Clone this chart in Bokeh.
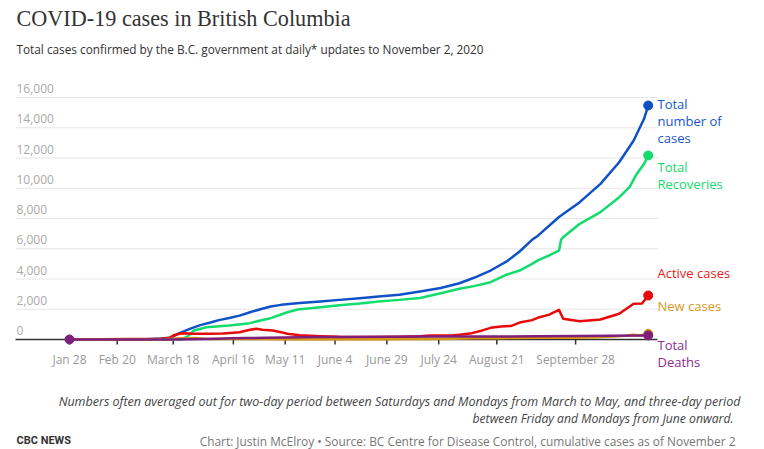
import pandas as pd
from bokeh.plotting import figure
from bokeh.models import Label
from bokeh.core.properties import value
from bokeh.embed import file_html
from bokeh.resources import INLINE

# ---------------- data ----------------
total_dates = ["2020-01-28", "2020-02-20", "2020-03-05", "2020-03-12", "2020-03-16", "2020-03-18",
               "2020-03-21", "2020-03-26", "2020-03-31", "2020-04-05", "2020-04-09", "2020-04-14",
               "2020-04-19", "2020-04-24", "2020-04-29", "2020-05-04", "2020-05-09", "2020-05-18",
               "2020-05-28", "2020-06-06", "2020-06-16", "2020-06-25", "2020-07-05", "2020-07-15",
               "2020-07-25", "2020-08-03", "2020-08-10", "2020-08-18", "2020-08-26", "2020-09-01",
               "2020-09-07", "2020-09-10", "2020-09-20", "2020-09-30", "2020-10-10", "2020-10-19",
               "2020-10-26", "2020-10-31", "2020-11-02"]
total_cases = [1, 6, 20, 60, 110, 200, 420, 700, 950, 1120, 1280, 1420, 1580, 1800, 2000, 2180,
               2290, 2410, 2510, 2620, 2730, 2850, 2960, 3170, 3410, 3720, 4080, 4560, 5180, 5820,
               6590, 6880, 8100, 9080, 10290, 11720, 13160, 14590, 15470]

recov_dates = ["2020-01-28", "2020-03-12", "2020-03-22", "2020-03-25", "2020-03-28", "2020-04-03",
               "2020-04-14", "2020-04-24", "2020-04-29", "2020-05-04", "2020-05-09", "2020-05-12",
               "2020-05-17", "2020-05-28", "2020-06-06", "2020-06-16", "2020-06-25", "2020-07-05",
               "2020-07-15", "2020-07-25", "2020-08-03", "2020-08-10", "2020-08-18", "2020-08-26",
               "2020-09-01", "2020-09-07", "2020-09-10", "2020-09-15", "2020-09-20", "2020-09-21",
               "2020-09-22", "2020-09-30", "2020-10-10", "2020-10-19", "2020-10-24", "2020-10-27",
               "2020-10-31", "2020-11-02"]
recoveries = [0, 0, 5, 200, 600, 810, 925, 1080, 1260, 1410, 1650, 1800, 1980, 2140, 2270, 2380,
              2510, 2620, 2750, 3060, 3350, 3530, 3790, 4300, 4560, 5000, 5250, 5550, 5880, 6600,
              6760, 7650, 8420, 9410, 10070, 10840, 11620, 12170]

active_dates = ["2020-01-28", "2020-03-12", "2020-03-16", "2020-03-18", "2020-03-21", "2020-03-23",
                "2020-03-27", "2020-04-03", "2020-04-11", "2020-04-19", "2020-04-24", "2020-04-27",
                "2020-04-30", "2020-05-05", "2020-05-09", "2020-05-12", "2020-05-18", "2020-05-28",
                "2020-06-06", "2020-06-16", "2020-06-25", "2020-07-05", "2020-07-15", "2020-07-20",
                "2020-07-30", "2020-08-03", "2020-08-09", "2020-08-14", "2020-08-18", "2020-08-23",
                "2020-08-28", "2020-09-01", "2020-09-07", "2020-09-10", "2020-09-15", "2020-09-20",
                "2020-09-22", "2020-09-30", "2020-10-10", "2020-10-19", "2020-10-26", "2020-10-30",
                "2020-11-02"]
active_cases = [1, 50, 100, 260, 375, 420, 380, 380, 400, 485, 640, 705, 640, 595, 485, 375, 285,
                220, 175, 170, 170, 175, 210, 265, 265, 310, 420, 600, 770, 860, 900, 1120, 1280,
                1450, 1630, 1960, 1370, 1210, 1320, 1700, 2360, 2380, 2910]

new_dates = ["2020-01-28", "2020-02-20", "2020-03-05", "2020-03-12", "2020-03-16", "2020-03-18",
             "2020-03-21", "2020-03-25", "2020-03-28", "2020-04-02", "2020-04-08", "2020-04-14",
             "2020-04-19", "2020-04-24", "2020-05-01", "2020-05-11", "2020-05-25", "2020-06-08",
             "2020-06-22", "2020-07-06", "2020-07-20", "2020-07-31", "2020-08-10", "2020-08-21",
             "2020-08-31", "2020-09-10", "2020-09-20", "2020-09-28", "2020-10-08", "2020-10-16",
             "2020-10-22", "2020-10-26", "2020-10-29", "2020-11-02"]
new_cases = [1, 0, 2, 7, 30, 45, 76, 66, 92, 53, 34, 27, 29, 45, 30, 16, 15, 12, 10, 25, 30, 45, 80,
             90, 100, 120, 140, 110, 150, 200, 250, 310, 270, 375]

death_dates = ["2020-01-28", "2020-03-09", "2020-03-18", "2020-03-25", "2020-04-01", "2020-04-08",
               "2020-04-15", "2020-04-22", "2020-05-01", "2020-05-11", "2020-05-25", "2020-06-08",
               "2020-06-29", "2020-07-24", "2020-08-21", "2020-09-10", "2020-09-28", "2020-10-15",
               "2020-11-02"]
deaths = [0, 1, 7, 14, 31, 50, 75, 94, 114, 130, 161, 167, 174, 191, 203, 213, 234, 250, 272]

tick_dates = ["2020-01-28", "2020-02-20", "2020-03-18", "2020-04-16", "2020-05-11", "2020-06-04",
              "2020-06-29", "2020-07-24", "2020-08-21", "2020-09-28"]
tick_labels = ["Jan 28", "Feb 20", "March 18", "April 16", "May 11", "June 4", "June 29",
               "July 24", "August 21", "September 28"]

y_ticks = [0, 2000, 4000, 6000, 8000, 10000, 12000, 14000, 16000]
y_labels = ["0", "2,000", "4,000", "6,000", "8,000", "10,000", "12,000", "14,000", "16,000"]


def doy(dates):
    return [int(pd.Timestamp(d).dayofyear) for d in dates]


BLUE = "#0f52c8"
GREEN = "#12dc6c"
RED = "#e60a0a"
ORANGE = "#d9960f"
PURPLE = "#7e1f7e"

W, H = 764, 449
PX_DAY = 2.0742          # pixels per day
PX_UNIT = 0.015125       # pixels per case
X_JAN28, Y_ZERO = 69, 339  # where Jan 28 / zero sit on the canvas
X0 = 28 - X_JAN28 / PX_DAY
X1 = X0 + W / PX_DAY
Y0 = -(H - Y_ZERO) / PX_UNIT
Y1 = Y0 + H / PX_UNIT
GRID_L = X0 + 15 / PX_DAY
GRID_R = X0 + 657 / PX_DAY
TICK_LEN = 5 / PX_UNIT

p = figure(width=W, height=H, x_range=(X0, X1), y_range=(Y0, Y1),
           x_axis_location=None, y_axis_location=None, output_backend="svg",
           toolbar_location=None, min_border=0)
p.outline_line_color = None
p.background_fill_color = "white"
p.border_fill_color = "white"
p.xgrid.visible = False
p.ygrid.visible = False

# horizontal gridlines
p.segment(x0=[GRID_L] * (len(y_ticks) - 1), x1=[GRID_R] * (len(y_ticks) - 1),
          y0=y_ticks[1:], y1=y_ticks[1:], line_color="#e6e6e6", line_width=1, level="underlay")
# baseline (x axis line) and ticks
p.segment(x0=[GRID_L], x1=[GRID_R], y0=[0], y1=[0], line_color="#333333", line_width=1.5,
          level="underlay")
tx = doy(tick_dates)
p.segment(x0=tx, x1=tx, y0=[0] * len(tx), y1=[-TICK_LEN] * len(tx), line_color="#333333",
          line_width=1.5, level="underlay")
p.text(x=tx, y=[0] * len(tx), text=tick_labels, y_offset=20, text_align="center",
       text_baseline="middle", text_font=value("Open Sans"), text_font_size="12px",
       text_color="#999999")

# y labels inside the plot, above the gridlines
p.text(x=[GRID_L] * len(y_ticks), y=y_ticks, text=y_labels, x_offset=1, y_offset=-9,
       text_baseline="middle", text_align="left", text_font=value("Open Sans"),
       text_font_size="12px", text_color="#aaaaaa")

series = [
    (total_dates, total_cases, BLUE),
    (recov_dates, recoveries, GREEN),
    (active_dates, active_cases, RED),
    (new_dates, new_cases, ORANGE),
    (death_dates, deaths, PURPLE),
]
for d, v, c in series:
    xs = doy(d)
    p.line(xs, v, line_width=2.5, line_color=c, line_join="round")
    p.scatter([xs[-1]], [v[-1]], size=9, fill_color=c, line_color=c)
xs = doy(death_dates)
p.scatter([xs[0]], [deaths[0]], size=9, fill_color=PURPLE, line_color=PURPLE)


# ---------------- texts (screen units: canvas, from bottom-left) ----------------
def add_label(text, xw, yw, color, size="13px", font="Open Sans", align="left", style="normal"):
    p.add_layout(Label(x=xw, y=H - yw, x_units="screen", y_units="screen", text=text,
                       text_color=color, text_font=font, text_font_size=size,
                       text_align=align, text_baseline="middle", text_font_style=style))


add_label("COVID-19 cases in British Columbia", 16, 18, "#333333", size="22.2px",
          font="Liberation Serif")
add_label("Total cases confirmed by the B.C. government at daily* updates to November 2, 2020",
          16, 48, "#333333", size="11.8px")

add_label("Total", 657, 103, "#1a56c8")
add_label("number of", 657, 120, "#1a56c8")
add_label("cases", 657, 137, "#1a56c8")
add_label("Total", 657, 166, "#18d86c")
add_label("Recoveries", 657, 183, "#18d86c")
add_label("Active cases", 657, 272, "#e8201c")
add_label("New cases", 657, 305, "#d9991a")
add_label("Total", 657, 344, "#8e2d8e")
add_label("Deaths", 657, 361, "#8e2d8e")

add_label("Numbers often averaged out for two-day period between Saturdays and Mondays from March "
          "to May, and three-day period", 740, 401, "#444444", size="12.5px", align="right",
          style="italic")
add_label("between Friday and Mondays from June onward.", 733, 418, "#444444", size="12.2px",
          align="right", style="italic")
add_label("CBC NEWS", 16, 440, "#333333", size="11px", font="'Liberation Sans Narrow', Roboto",
          style="bold")
add_label("Chart: Justin McElroy \u2022 Source: BC Centre for Disease Control, cumulative cases as "
          "of November 2", 735, 440, "#777777", size="11.9px", align="right")

open("out.html", "w").write(file_html(p, INLINE))
